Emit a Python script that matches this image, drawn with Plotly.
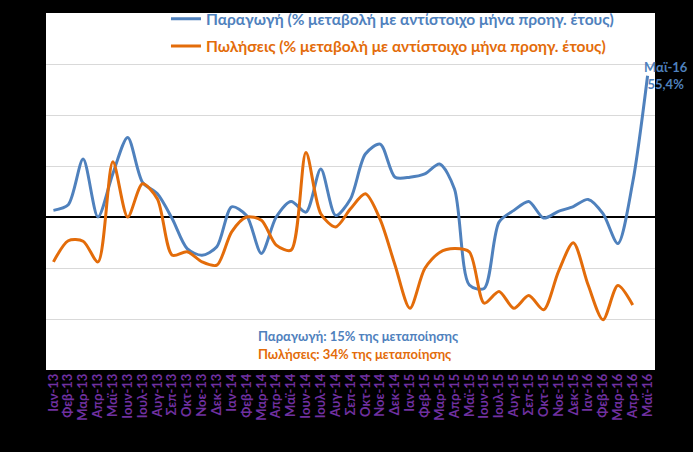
import plotly.graph_objects as go

months = ["Ιαν-13","Φεβ-13","Μαρ-13","Απρ-13","Μαϊ-13","Ιουν-13","Ιουλ-13","Αυγ-13","Σεπ-13","Οκτ-13","Νοε-13","Δεκ-13",
          "Ιαν-14","Φεβ-14","Μαρ-14","Απρ-14","Μαϊ-14","Ιουν-14","Ιουλ-14","Αυγ-14","Σεπ-14","Οκτ-14","Νοε-14","Δεκ-14",
          "Ιαν-15","Φεβ-15","Μαρ-15","Απρ-15","Μαϊ-15","Ιουν-15","Ιουλ-15","Αυγ-15","Σεπ-15","Οκτ-15","Νοε-15","Δεκ-15",
          "Ιαν-16","Φεβ-16","Μαρ-16","Απρ-16","Μαϊ-16"]

production = [2.6, 4.8, 22.7, 0.0, 17.0, 31.2, 13.6, 9.1, -0.7, -12.4, -15.0, -11.7,
              4.0, 0.6, -14.3, 0.0, 6.1, 1.9, 18.8, 0.6, 7.1, 24.7, 28.6, 15.6,
              15.6, 16.9, 20.8, 11.0, -26.7, -28.0, -2.0, 2.6, 6.1, -0.4, 2.2, 4.1,
              6.9, 1.3, -10.4, 13.6, 55.4]

sales = [-17.6, -9.3, -9.5, -17.6, 21.7, 0.0, 13.0, 7.1, -15.0, -13.6, -17.6, -18.9,
         -5.8, 0.0, -1.3, -11.0, -13.0, 25.3, 1.3, -3.9, 3.2, 9.1, -1.0, -18.9,
         -35.8, -20.2, -13.9, -12.4, -13.7, -33.8, -29.2, -35.8, -30.8, -36.4, -21.4, -10.1,
         -26.7, -40.3, -26.9, -34.5]

BLUE = "#4F81BD"
ORANGE = "#E36C0A"
FONT = "Lato"

name_prod = "Παραγωγή (% μεταβολή με αντίστοιχο μήνα προηγ. έτους)"
name_sales = "Πωλήσεις (% μεταβολή με αντίστοιχο μήνα προηγ. έτους)"

fig = go.Figure()
fig.add_trace(go.Scatter(
    x=list(range(len(production))), y=production, mode="lines",
    line=dict(color=BLUE, width=3, shape="spline", smoothing=0.8),
    name="<span style='color:" + BLUE + "'>" + name_prod + "</span>",
    legendgroup="a"))
fig.add_trace(go.Scatter(
    x=list(range(len(sales))), y=sales, mode="lines",
    line=dict(color=ORANGE, width=3, shape="spline", smoothing=0.8),
    name="<span style='color:" + ORANGE + "'>" + name_sales + "</span>",
    legendgroup="b"))

fig.add_annotation(x=40, y=production[-1], xref="x", yref="y",
                   text="Μαϊ-16<br>55,4%", showarrow=False, xshift=18,
                   font=dict(family=FONT, size=13, color=BLUE, weight="bold"),
                   align="center")
fig.add_annotation(x=0.345, y=0.095, xref="paper", yref="paper", xanchor="left", yanchor="middle",
                   text="Παραγωγή: 15% της μεταποίησης", showarrow=False,
                   font=dict(family=FONT, size=13, color=BLUE, weight="bold"))
fig.add_annotation(x=0.345, y=0.045, xref="paper", yref="paper", xanchor="left", yanchor="middle",
                   text="Πωλήσεις: 34% της μεταποίησης", showarrow=False,
                   font=dict(family=FONT, size=13, color=ORANGE, weight="bold"))

fig.update_layout(
    width=693, height=452,
    margin=dict(l=46, r=38, t=13, b=82, autoexpand=False),
    paper_bgcolor="black", plot_bgcolor="white",
    showlegend=True,
    legend=dict(x=0.197, y=1.03, xanchor="left", yanchor="top",
                bgcolor="rgba(0,0,0,0)", traceorder="grouped", tracegroupgap=4,
                font=dict(family=FONT, size=15.5, weight="bold"),
                itemwidth=30),
)
fig.update_xaxes(range=[-0.5, 40.5], tickmode="array", tickvals=list(range(len(months))),
                 ticktext=months, tickangle=-90, showgrid=False, zeroline=False,
                 tickfont=dict(family=FONT, size=13, color="#7030A0", weight="bold"),
                 showline=False, ticks="")
fig.update_yaxes(range=[-60, 80], dtick=20, showgrid=True, gridcolor="#D9D9D9", gridwidth=1,
                 zeroline=True, zerolinecolor="black", zerolinewidth=2,
                 showticklabels=False, ticks="")

fig.write_html("out.html", config={"displayModeBar": False},
               post_script="document.body.style.margin='0';document.body.style.background='black';")
